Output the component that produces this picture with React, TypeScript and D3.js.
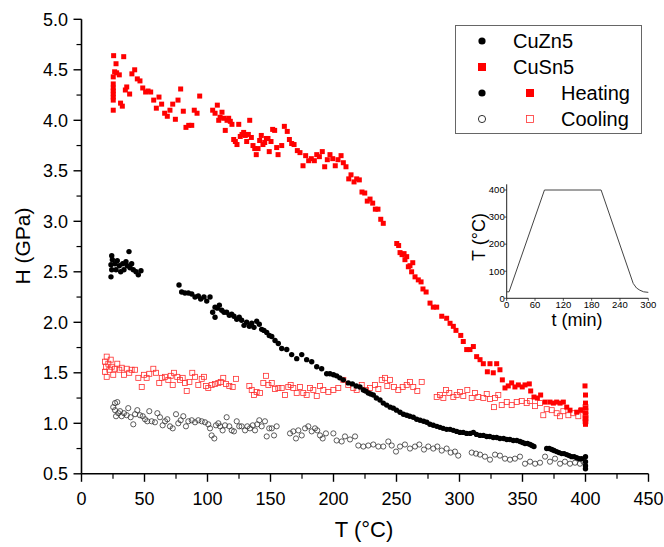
import React from 'react'
import * as d3 from 'd3'

// [T (°C), H (GPa)]
const cuSn5Heating: [number, number][] = [
  [25.5, 4.64], [33.5, 4.63], [27.4, 4.56], [26.3, 4.48], [27.9, 4.47], [30, 4.45], [25.2, 4.43],
  [25.2, 4.36], [25.2, 4.32], [25.2, 4.29], [25.2, 4.26], [25.2, 4.23], [25.2, 4.2], [25.2, 4.1],
  [31, 4.17], [32.4, 4.14], [35.9, 4.33], [34.8, 4.3], [38.2, 4.26], [40, 4.46], [42.2, 4.5],
  [44.3, 4.41], [46.4, 4.39], [48.6, 4.32], [50.9, 4.28], [52.8, 4.29], [54.9, 4.28], [57.3, 4.2],
  [59.4, 4.12], [61.5, 4.23], [63.6, 4.16], [66, 4.07], [68.1, 4.04], [70.2, 4.1], [72.4, 4.16],
  [74.5, 4.01], [76.6, 4.2], [78.7, 4.31], [80.8, 4.09], [82.9, 3.93], [85.1, 3.95], [87.5, 3.95],
  [89.5, 4.1], [91.7, 4.07], [93.8, 4.24], [104.1, 4.1], [106, 4.07], [107.8, 4.15], [108.9, 4.0],
  [110, 4.03], [111.5, 4.08], [112.9, 4.02], [114.1, 3.9], [115.5, 4.0], [116.8, 4.02], [118.1, 3.99],
  [119.4, 3.96], [120.8, 3.81], [122.1, 3.79], [123.4, 3.76], [124.8, 3.96], [126, 3.84], [127.4, 3.86],
  [128.7, 3.88], [130, 3.85], [131.1, 3.79], [132.4, 3.86], [133.5, 4.0], [134.8, 3.83], [136.1, 3.75],
  [137.5, 3.72], [138.7, 3.66], [140.1, 3.72], [141.4, 3.8], [142.7, 3.85], [144, 3.76], [145.4, 3.78],
  [146.7, 3.82], [148, 3.82], [149, 3.69], [150.4, 3.79], [151.7, 3.91], [153.3, 3.9], [154.9, 3.73],
  [156, 3.66], [158.9, 3.75], [161, 3.94], [163.3, 3.89], [165, 3.81], [166.8, 3.77], [168.7, 3.76],
  [171.3, 3.7], [173.4, 3.68], [175.8, 3.55], [177.9, 3.65], [180.3, 3.6], [182.4, 3.62], [184.8, 3.6],
  [186.7, 3.66], [188.8, 3.64], [191.1, 3.69], [193, 3.54], [195.1, 3.61], [197.2, 3.66], [199.4, 3.62],
  [201.4, 3.55], [203.6, 3.61], [206, 3.65], [207.8, 3.58], [209.9, 3.54], [212.1, 3.42], [213.9, 3.46],
  [216.3, 3.39], [218.4, 3.42], [220.5, 3.41], [222.6, 3.29], [224.8, 3.28], [226.8, 3.2], [229, 3.22],
  [231.1, 3.18], [233.2, 3.12], [235.3, 3.12], [237.5, 3.02], [239.5, 2.98], [250.2, 2.78], [251.7, 2.76],
  [252.8, 2.69], [254.4, 2.67], [256, 2.68], [256.7, 2.62], [258.1, 2.65], [259.4, 2.55], [260.7, 2.56],
  [262.9, 2.59], [262, 2.5], [264.7, 2.45], [267.3, 2.42], [269.5, 2.4], [271, 2.33], [273.5, 2.3],
  [276.6, 2.19], [279.2, 2.15], [281.9, 2.15], [285.9, 2.06], [289.8, 2.04], [292.5, 1.99], [295.1, 1.96],
  [297.2, 1.92], [301, 1.87], [303, 1.81], [305.7, 1.73], [308.3, 1.73], [311, 1.76], [313.6, 1.66],
  [316.3, 1.63], [318.9, 1.59], [322.1, 1.51], [324.2, 1.59], [326.8, 1.5], [329.5, 1.59], [332.1, 1.53],
  [334, 1.43], [336.1, 1.35], [338.7, 1.37], [341.4, 1.4], [344, 1.36], [346.7, 1.38], [349.8, 1.36],
  [352, 1.38], [355.4, 1.39], [356.5, 1.32], [359.1, 1.26], [361.8, 1.25], [364.4, 1.28], [367.9, 1.21],
  [371.8, 1.21], [374.5, 1.2], [377.1, 1.21], [379.8, 1.2], [382.4, 1.21], [385.1, 1.16], [387.7, 1.13],
  [393, 1.11], [396.2, 1.13], [399.6, 1.37], [400, 1.28], [400, 1.2], [400, 1.15], [400, 1.1],
  [400, 1.05], [400, 1.02], [400, 0.99],
]

const cuZn5Heating: [number, number][] = [
  [24, 2.66], [24.5, 2.62], [23.4, 2.57], [24, 2.52], [23.4, 2.45], [26.6, 2.58], [27.4, 2.52],
  [28.4, 2.61], [30, 2.56], [31.1, 2.5], [32.7, 2.58], [33.7, 2.52], [35.3, 2.6], [36.3, 2.56],
  [37.7, 2.7], [38.5, 2.54], [39.8, 2.58], [41.1, 2.52], [43.3, 2.5], [45.1, 2.47], [47.2, 2.51],
  [77.4, 2.37], [79.5, 2.3], [82.1, 2.29], [84.8, 2.29], [87.5, 2.28], [90.1, 2.25], [92.7, 2.26],
  [94.6, 2.23], [97.2, 2.25], [99.4, 2.21], [102, 2.25], [104.1, 2.1], [106, 2.05], [106, 2.15],
  [107.8, 2.14], [109.4, 2.17], [111.3, 2.12], [113.1, 2.1], [115.2, 2.1], [117.3, 2.07], [119.2, 2.08],
  [121, 2.06], [123.2, 2.03], [125.2, 2.05], [127.1, 2.02], [129, 1.97], [131.1, 2.0], [133.2, 1.96],
  [135.1, 1.99], [136.9, 1.95], [139, 2.01], [141.1, 1.98], [143, 1.93], [144.8, 1.92], [147, 1.9],
  [149, 1.87], [151, 1.86], [153.6, 1.82], [156.2, 1.79], [158.9, 1.74], [162.9, 1.73], [166.8, 1.68],
  [170.8, 1.64], [174.8, 1.68], [178.7, 1.63], [182.7, 1.61], [186.7, 1.56], [190.6, 1.54], [194.6, 1.49],
  [197.2, 1.49], [200, 1.48], [202.5, 1.47], [205, 1.45], [207.8, 1.43], [211.7, 1.4], [215, 1.39],
  [218, 1.37], [221, 1.36], [223.7, 1.33], [225.5, 1.32], [227.6, 1.3], [229.5, 1.29], [231.6, 1.28],
  [234, 1.25], [236.9, 1.23], [239.5, 1.2], [242.2, 1.18], [245, 1.16], [247.5, 1.15], [250, 1.13],
  [252.8, 1.11], [255.5, 1.09], [258.1, 1.08], [260.5, 1.07], [263.3, 1.06], [266, 1.04], [268.7, 1.03],
  [271.5, 1.02], [274, 1.01], [276.5, 0.99], [279.2, 0.98], [282, 0.97], [284.5, 0.96], [287, 0.95],
  [289.8, 0.94], [292.5, 0.94], [295.1, 0.93], [297.8, 0.92], [300.4, 0.91], [303, 0.91], [305.7, 0.9],
  [308.5, 0.9], [311, 0.91], [313.5, 0.89], [316.3, 0.88], [319, 0.88], [321.6, 0.87], [324, 0.87],
  [326.8, 0.86], [329.5, 0.86], [332.1, 0.85], [335, 0.85], [337.5, 0.84], [340, 0.84], [342.7, 0.83],
  [345.5, 0.83], [348, 0.82], [350, 0.81], [352, 0.8], [354, 0.8], [356, 0.79], [357.5, 0.78],
  [359.1, 0.77], [369.2, 0.75], [371.2, 0.75], [373.2, 0.74], [375, 0.73], [377.1, 0.72], [379, 0.71],
  [381.1, 0.7], [383, 0.7], [385.1, 0.69], [387, 0.68], [389, 0.67], [391, 0.67], [393, 0.66],
  [395, 0.65], [397, 0.65], [400, 0.67], [400, 0.62], [400, 0.58], [400, 0.55],
]

const cuSn5Cooling: [number, number][] = [
  [20, 1.66], [18.7, 1.61], [19.4, 1.56], [18.7, 1.51], [20, 1.46], [21.3, 1.59], [22.1, 1.53],
  [23.2, 1.63], [24, 1.56], [25.2, 1.48], [26.6, 1.54], [28.4, 1.59], [30, 1.53], [31.9, 1.55],
  [33.7, 1.48], [35.9, 1.54], [37.9, 1.5], [39.8, 1.53], [42.5, 1.53], [45.1, 1.45], [47.8, 1.36],
  [49.6, 1.48], [51.7, 1.45], [53.8, 1.49], [57, 1.54], [59.1, 1.5], [61.7, 1.4], [63.7, 1.45],
  [66.3, 1.46], [68.9, 1.43], [70.8, 1.47], [72.4, 1.38], [73.4, 1.5], [76, 1.46], [78.2, 1.43],
  [80.3, 1.45], [82.1, 1.4], [83.5, 1.32], [85.6, 1.41], [87.9, 1.5], [90.1, 1.46], [92.7, 1.38],
  [95.4, 1.44], [97.2, 1.46], [98.8, 1.37], [100.6, 1.35], [103.3, 1.38], [106, 1.39], [108.6, 1.4],
  [110.5, 1.41], [112.5, 1.45], [114.7, 1.39], [117.3, 1.37], [120, 1.36], [122.6, 1.44],
  [133.2, 1.37], [135.1, 1.33], [136.9, 1.28], [139, 1.31], [141.7, 1.3], [144.3, 1.4], [146.4, 1.47],
  [148.3, 1.38], [151, 1.4], [153.6, 1.34], [156.2, 1.35], [158.9, 1.35], [161.5, 1.28], [164.1, 1.36],
  [166, 1.38], [168.1, 1.35], [170.8, 1.3], [173.4, 1.36], [176, 1.3], [178.7, 1.28], [181.3, 1.35],
  [184, 1.33], [186.7, 1.27], [189.3, 1.37], [191.9, 1.33], [195.9, 1.31], [199.9, 1.33], [203.8, 1.35],
  [207.8, 1.43], [211.7, 1.38], [215.7, 1.35], [218.4, 1.33], [222.4, 1.38], [225.8, 1.33], [229, 1.35],
  [233, 1.38], [235.6, 1.34], [238.3, 1.43], [240.9, 1.45], [242.7, 1.37], [244.8, 1.43], [248, 1.36],
  [251.4, 1.33], [254.9, 1.36], [258.1, 1.38], [260.7, 1.41], [263.3, 1.36], [266.5, 1.32], [270, 1.41],
  [281.9, 1.26], [284.5, 1.28], [287.2, 1.25], [289.3, 1.33], [291.9, 1.3], [295.1, 1.26], [297.8, 1.28],
  [300.4, 1.31], [303, 1.27], [306.2, 1.33], [309.7, 1.25], [312.3, 1.3], [314.9, 1.26], [318.9, 1.25],
  [321.6, 1.29], [324.2, 1.24], [328.2, 1.25], [330.8, 1.28], [327.4, 1.16], [333.5, 1.18], [337.5, 1.21],
  [341.4, 1.18], [345.4, 1.21], [349.4, 1.22], [353.3, 1.2], [356, 1.22], [360, 1.17], [363.9, 1.2],
  [366.5, 1.08], [369.2, 1.14], [373.2, 1.13], [377.1, 1.1], [379.8, 1.07], [382.4, 1.12], [386.4, 1.08],
  [390.3, 1.1], [394.3, 1.07], [397, 1.13], [400, 1.16], [400, 1.12], [400, 1.08], [400, 1.05], [400, 1.02],
]

const cuZn5Cooling: [number, number][] = [
  [26.6, 1.2], [28.4, 1.21], [25.2, 1.16], [26.6, 1.13], [27.4, 1.07], [29.2, 1.1], [30.6, 1.12],
  [31.9, 1.07], [33.7, 1.1], [35.9, 1.08], [37.1, 1.15], [39, 1.06], [41.1, 0.99], [42.5, 1.09],
  [44.3, 1.13], [46.4, 1.08], [48.6, 1.07], [50.4, 1.04], [52.2, 1.02], [53.8, 1.12], [55.7, 1.02],
  [58.3, 1.01], [60.2, 1.1], [62.3, 1.06], [64.4, 0.98], [66.3, 1.02], [68.1, 1.04], [70.2, 0.97],
  [72.4, 0.95], [75, 1.09], [76.8, 1.0], [78.7, 1.03], [80.8, 1.07], [82.9, 0.97], [84.8, 1.02],
  [87.5, 1.03], [90.1, 1.01], [92.7, 1.03], [95.4, 1.02], [98, 1.01], [100.6, 0.99], [102, 0.95],
  [103.3, 0.88], [105.4, 0.85], [106.7, 0.98], [108.6, 1.0], [110, 0.97], [112, 0.93], [113.9, 0.98],
  [115.2, 1.06], [117.3, 0.97], [119.2, 0.93], [121, 0.92], [123.2, 1.02], [125.2, 0.97], [127.1, 0.97],
  [129.8, 0.93], [131.6, 0.97], [133.7, 0.95], [135.9, 0.98], [137.7, 0.93], [139.5, 0.99], [141.1, 1.03],
  [143, 0.97], [145.6, 1.02], [147, 0.87], [149, 0.95], [151, 0.95], [152.8, 0.88], [154.9, 0.97],
  [165.5, 0.9], [168.1, 0.92], [170.2, 0.85], [172.1, 0.93], [174.8, 0.88], [177.4, 0.95], [180, 0.97],
  [182.7, 0.92], [185.3, 0.95], [187.1, 0.93], [189.3, 0.88], [191.4, 0.85], [194, 0.9], [199.9, 0.9],
  [202.5, 0.83], [206.5, 0.82], [209.1, 0.87], [213.1, 0.84], [217.1, 0.87], [219.7, 0.78], [223.7, 0.77],
  [227.6, 0.78], [231.6, 0.79], [235.6, 0.77], [239.5, 0.77], [243.5, 0.82], [246.2, 0.78], [249.6, 0.72],
  [252.8, 0.77], [256.7, 0.79], [260.7, 0.75], [264.7, 0.77], [268.1, 0.79], [271.8, 0.74], [275.2, 0.77],
  [279.2, 0.75], [282.4, 0.77], [285.9, 0.73], [289.8, 0.75], [293, 0.71], [296.4, 0.72], [299, 0.68],
  [309.7, 0.71], [313.1, 0.7], [316.3, 0.69], [320.2, 0.67], [324.2, 0.64], [328.2, 0.69], [332.1, 0.68],
  [336.1, 0.65], [340.1, 0.64], [344, 0.65], [348, 0.67], [352, 0.6], [356, 0.62], [360, 0.6],
  [363.9, 0.61], [367.9, 0.67], [371.8, 0.62], [375.8, 0.65], [379.8, 0.6], [383.7, 0.62], [387.7, 0.6],
  [391.7, 0.61], [395.6, 0.6], [398.3, 0.62],
]

// inset: temperature programme, [t (min), T (°C)]
const profile: [number, number][] = [
  [0, 24], [5, 24], [80, 400], [200, 400], [268, 55], [275, 38], [282, 30], [290, 24], [300, 22],
]

const xTicks = [0, 50, 100, 150, 200, 250, 300, 350, 400, 450]
const yTicks = [0.5, 1.0, 1.5, 2.0, 2.5, 3.0, 3.5, 4.0, 4.5, 5.0]
const insetXTicks = [0, 60, 120, 180, 240, 300]
const insetYTicks = [0, 100, 200, 300, 400]

const font = 'Arial, "Liberation Sans", sans-serif'
const red = '#ff0000'

export default function App() {
  const x = d3.scaleLinear().domain([0, 450]).range([81.5, 648.5])
  const y = d3.scaleLinear().domain([0.5, 5]).range([473.8, 19.3])

  const ix = d3.scaleLinear().domain([0, 300]).range([506.7, 648.3])
  const iy = d3.scaleLinear().domain([0, 400]).range([298.3, 190])
  const profileLine = d3.line<[number, number]>().x(d => ix(d[0])).y(d => iy(d[1]))(profile)

  const minorX = d3.range(25, 450, 50)
  const minorY = d3.range(0.75, 5, 0.5)

  const sq = 5
  const osq = 5

  return (
    <svg width={664} height={547} style={{ position: 'absolute', left: 0, top: 0, background: 'white' }}
      fontFamily={font}>
      {/* axes */}
      <line x1={x(0)} x2={x(450)} y1={y(0.5)} y2={y(0.5)} stroke="black" strokeWidth={1.6} />
      <line x1={x(0)} x2={x(0)} y1={y(0.5)} y2={y(5)} stroke="black" strokeWidth={1.6} />
      {xTicks.map(t => (
        <g key={'xt' + t}>
          <line x1={x(t)} x2={x(t)} y1={y(0.5)} y2={y(0.5) + 8} stroke="black" strokeWidth={1.4} />
          <text x={x(t)} y={505} fontSize={18} textAnchor="middle">{t}</text>
        </g>
      ))}
      {minorX.map(t => (
        <line key={'xm' + t} x1={x(t)} x2={x(t)} y1={y(0.5)} y2={y(0.5) + 5} stroke="black" strokeWidth={1.2} />
      ))}
      {yTicks.map(t => (
        <g key={'yt' + t}>
          <line x1={x(0) - 8} x2={x(0)} y1={y(t)} y2={y(t)} stroke="black" strokeWidth={1.4} />
          <text x={68} y={y(t) + 6.3} fontSize={18} textAnchor="end">{t.toFixed(1)}</text>
        </g>
      ))}
      {minorY.map(t => (
        <line key={'ym' + t} x1={x(0) - 5} x2={x(0)} y1={y(t)} y2={y(t)} stroke="black" strokeWidth={1.2} />
      ))}
      <text x={364} y={537} fontSize={22} textAnchor="middle">T (°C)</text>
      <text transform={`translate(30,246) rotate(-90)`} fontSize={21} textAnchor="middle">H (GPa)</text>

      {/* data */}
      {cuSn5Cooling.map((d, i) => (
        <rect key={'sc' + i} x={x(d[0]) - osq / 2} y={y(d[1]) - osq / 2} width={osq} height={osq}
          fill="none" stroke="#ff3030" strokeWidth={0.8} />
      ))}
      {cuZn5Cooling.map((d, i) => (
        <circle key={'zc' + i} cx={x(d[0])} cy={y(d[1])} r={2.6} fill="none" stroke="#333" strokeWidth={0.8} />
      ))}
      {cuSn5Heating.map((d, i) => (
        <rect key={'sh' + i} x={x(d[0]) - sq / 2} y={y(d[1]) - sq / 2} width={sq} height={sq} fill={red} />
      ))}
      {cuZn5Heating.map((d, i) => (
        <circle key={'zh' + i} cx={x(d[0])} cy={y(d[1])} r={2.7} fill="black" />
      ))}

      {/* legend */}
      <rect x={455.5} y={25.5} width={186} height={108} fill="white" stroke="#666" strokeWidth={1} />
      <circle cx={482} cy={41} r={3.6} fill="black" />
      <text x={513} y={47.5} fontSize={20}>CuZn5</text>
      <rect x={478} y={63} width={8} height={8} fill={red} />
      <text x={513} y={73.5} fontSize={20}>CuSn5</text>
      <circle cx={482} cy={93} r={3.6} fill="black" />
      <rect x={526} y={89} width={8} height={8} fill={red} />
      <text x={561} y={99.5} fontSize={20}>Heating</text>
      <circle cx={482} cy={119} r={3.6} fill="none" stroke="black" strokeWidth={0.8} />
      <rect x={526.5} y={115.5} width={7} height={7} fill="none" stroke="#ff3030" strokeWidth={0.8} />
      <text x={561} y={125.5} fontSize={20}>Cooling</text>

      {/* inset */}
      <line x1={ix(0)} x2={ix(300)} y1={iy(0)} y2={iy(0)} stroke="#222" strokeWidth={1} />
      <line x1={ix(0)} x2={ix(0)} y1={iy(0)} y2={184.3} stroke="#222" strokeWidth={1} />
      {insetXTicks.map(t => (
        <g key={'ixt' + t}>
          <line x1={ix(t)} x2={ix(t)} y1={iy(0)} y2={iy(0) + 2.5} stroke="#222" strokeWidth={0.8} />
          <text x={ix(t)} y={iy(0) + 9.5} fontSize={9.5} textAnchor="middle">{t}</text>
        </g>
      ))}
      {insetYTicks.map(t => (
        <g key={'iyt' + t}>
          <line x1={ix(0) - 2.5} x2={ix(0)} y1={iy(t)} y2={iy(t)} stroke="#222" strokeWidth={0.8} />
          <text x={ix(0) - 2} y={iy(t) + 3.3} fontSize={9.5} textAnchor="end">{t}</text>
        </g>
      ))}
      <path d={profileLine ?? ''} fill="none" stroke="#444" strokeWidth={1} />
      <text x={577} y={326} fontSize={18} textAnchor="middle">t (min)</text>
      <text transform={`translate(485,237) rotate(-90)`} fontSize={18} textAnchor="middle">T (°C)</text>
    </svg>
  )
}
